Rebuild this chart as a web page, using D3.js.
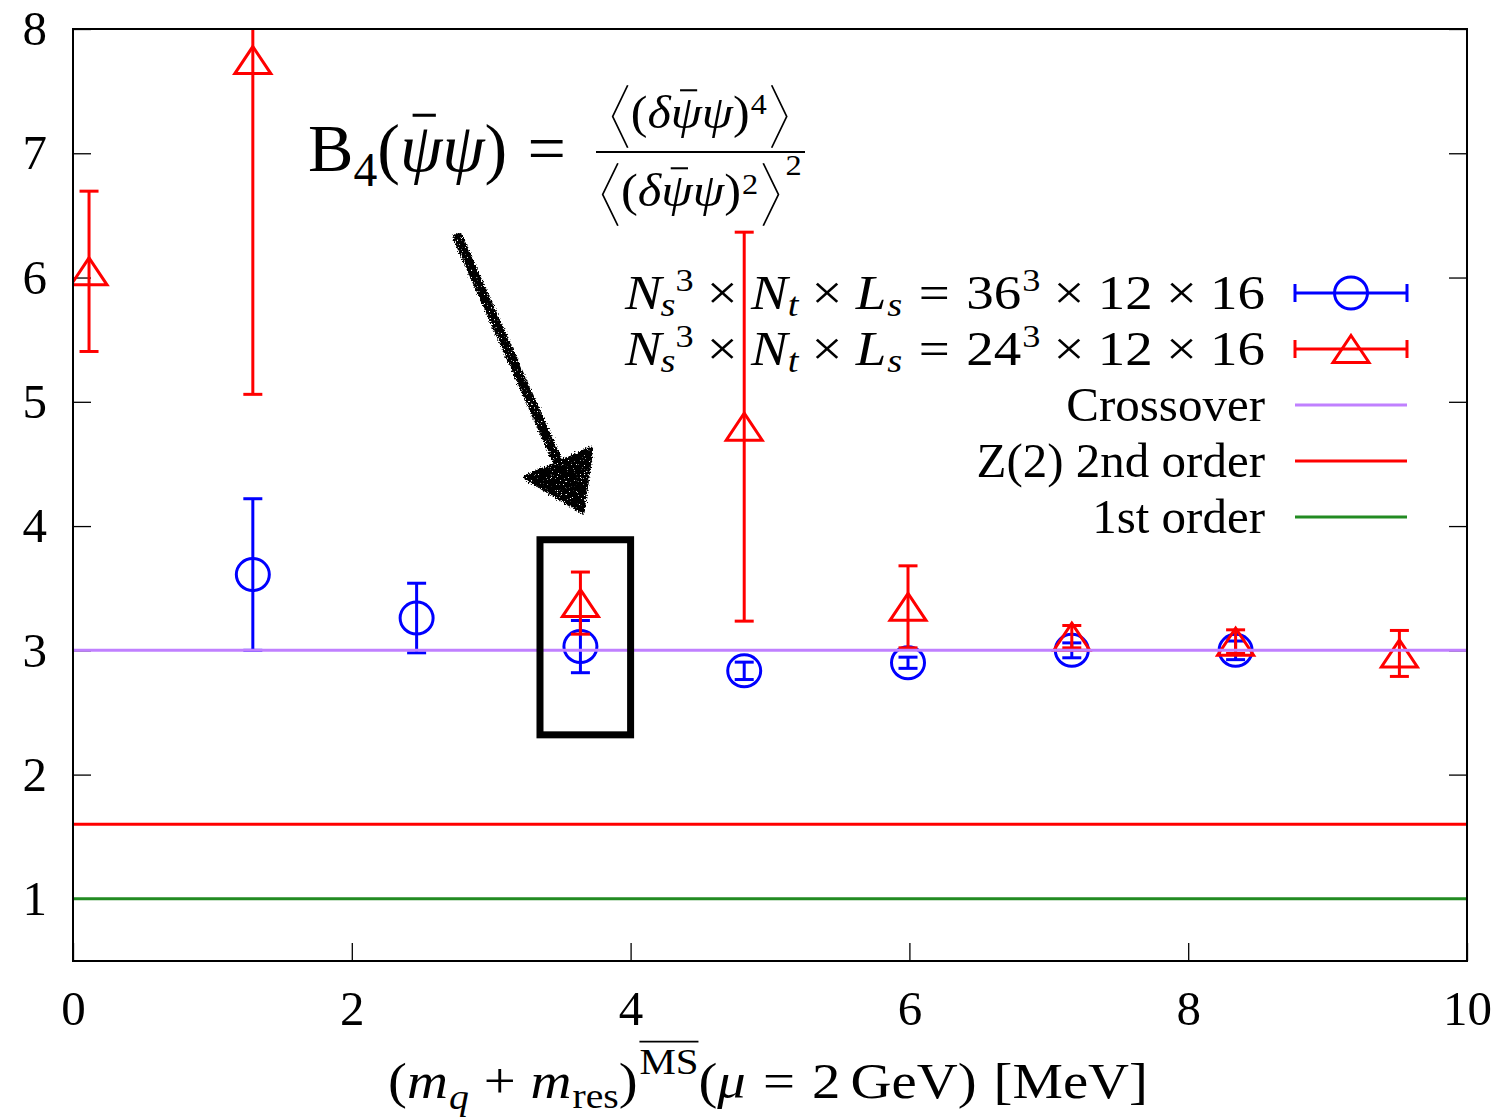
<!DOCTYPE html>
<html>
<head>
<meta charset="utf-8">
<script src="https://cdn.jsdelivr.net/npm/d3@7"></script>
<style>
  html, body { margin: 0; padding: 0; background: #fff; }
  svg { display: block; }
  text { font-family: "Liberation Serif", "DejaVu Serif", serif; fill: #000; }
</style>
</head>
<body>
<svg id="chart" width="1508" height="1117"></svg>
<script>
// ---- data ----
const massBlue   = [1.29, 2.465, 3.64, 4.815, 5.99, 7.165, 8.34];
const b4Blue     = [3.61, 3.26, 3.03, 2.835, 2.90, 3.00, 3.00];
const errBlue    = [0.61, 0.28, 0.21, 0.07, 0.045, 0.06, 0.075];

const massRed    = [0.115, 1.29, 3.64, 4.815, 5.99, 7.165, 8.34, 9.515];
const b4Red      = [6.05, 7.75, 3.38, 4.80, 3.35, 3.11, 3.07, 2.975];
const errRed     = [0.645, 2.69, 0.25, 1.565, 0.33, 0.09, 0.095, 0.185];

const refNames   = ["Crossover", "Z(2) 2nd order", "1st order"];
const refValues  = [3, 1.6, 1];
const refColors  = ["#c080ff", "#ff0000", "#228b22"];

const xTickValues = [0, 2, 4, 6, 8, 10];
const yTickValues = [1, 2, 3, 4, 5, 6, 7, 8];

// highlighted region and arrow pointing at it (data units)
const boxX = [3.35, 4.0];
const boxY = [2.32, 3.89];
const arrowTail = [2.762, 6.319];
const arrowHead = [[3.25, 4.39], [3.715, 4.62], [3.652, 4.12]];

// ---- layout ----
const svg = d3.select("#chart");
const L = 73, R = 1467, T = 29, B = 961;
const x = d3.scaleLinear().domain([0, 10]).range([L, R]);
const y = d3.scaleLinear().domain([0.5, 8]).range([B, T]);

const defs = svg.append("defs");
defs.append("clipPath").attr("id", "plotClip")
  .append("rect").attr("x", L).attr("y", T).attr("width", R - L).attr("height", B - T);

// grainy marker-pen texture for the arrow
const rough = defs.append("filter").attr("id", "rough")
  .attr("x", "-20%").attr("y", "-20%").attr("width", "140%").attr("height", "140%");
rough.append("feTurbulence").attr("type", "fractalNoise").attr("baseFrequency", 0.7)
  .attr("numOctaves", 2).attr("seed", 2).attr("result", "n");
rough.append("feDisplacementMap").attr("in", "SourceGraphic").attr("in2", "n")
  .attr("scale", 6).attr("xChannelSelector", "R").attr("yChannelSelector", "G").attr("result", "d");
rough.append("feTurbulence").attr("type", "fractalNoise").attr("baseFrequency", 1.3)
  .attr("numOctaves", 1).attr("seed", 5).attr("result", "n2");
rough.append("feColorMatrix").attr("in", "n2").attr("type", "matrix")
  .attr("values", "0 0 0 0 0  0 0 0 0 0  0 0 0 0 0  0 0 0 -16 11.6").attr("result", "holes");
rough.append("feComposite").attr("in", "d").attr("in2", "holes").attr("operator", "in");

// ---- rich (math-like) text helper: one <text> with positioned tspans ----
// pieces: {t, it, s (scale), b (baseline raise, em), back (stack on previous), l, r (padding em), bar}
function rich(parent, x0, y0, size, pieces, anchor, targetW) {
  const outer = parent.append("g");
  const g = outer.append("g");
  const text = g.append("text").attr("font-size", size);
  let cursor = 0, lastStart = 0;
  pieces.forEach(p => {
    const fs = size * (p.s || 1);
    if (p.delim) {
      // tall angle delimiter drawn as strokes
      const w = p.w * size, top = p.top * size, bot = p.bot * size;
      const xs = cursor + (p.l || 0) * size;
      const mid = y0 - (top - bot) / 2;
      const path = p.delim === "<"
        ? `M${xs + w},${y0 - top} L${xs},${mid} L${xs + w},${y0 + bot}`
        : `M${xs},${y0 - top} L${xs + w},${mid} L${xs},${y0 + bot}`;
      g.append("path").attr("d", path).attr("fill", "none").attr("stroke", "#000").attr("stroke-width", 1.6);
      lastStart = xs;
      cursor = xs + w + (p.r || 0) * size;
      return;
    }
    const t = text.append("tspan")
      .attr("font-size", fs)
      .attr("font-style", p.it ? "italic" : "normal")
      .attr("y", y0 - (p.b || 0) * size)
      .text(p.t);
    const w = t.node().getComputedTextLength();
    const xs = (p.back ? lastStart : cursor) + (p.l || 0) * size;
    t.attr("x", xs);
    if (!p.back) lastStart = xs;
    cursor = Math.max(cursor, xs + w + (p.r || 0) * size);
    if (p.bar) {
      const by = y0 - (p.b || 0) * size - (p.barY || 0.78) * fs;
      g.append("line")
        .attr("x1", xs + w * (p.barL == null ? 0 : p.barL)).attr("x2", xs + w * (p.barR == null ? 1 : p.barR))
        .attr("y1", by).attr("y2", by)
        .attr("stroke", "#000").attr("stroke-width", Math.max(1.4, fs * 0.045));
    }
  });
  const sx = targetW ? targetW / cursor : 1;
  const wTot = cursor * sx;
  const off = anchor === "end" ? x0 - wTot : anchor === "middle" ? x0 - wTot / 2 : x0;
  g.attr("transform", `translate(${off},${y0}) scale(${sx},1) translate(0,${-y0})`);
  return outer;
}

// ---- axes ----
const tickLen = 18;
const fontTick = 49;

const gy = svg.append("g").attr("transform", `translate(${L},0)`)
  .call(d3.axisLeft(y).tickValues(yTickValues).tickFormat(d3.format("d")).tickSize(-tickLen).tickPadding(26));
const gyr = svg.append("g").attr("transform", `translate(${R},0)`)
  .call(d3.axisRight(y).tickValues(yTickValues).tickFormat("").tickSize(-tickLen));
const gx = svg.append("g").attr("transform", `translate(0,${B})`)
  .call(d3.axisBottom(x).tickValues(xTickValues).tickFormat(d3.format("d")).tickSize(-tickLen).tickPadding(29));

[gy, gyr, gx].forEach(g => {
  g.select(".domain").remove();
  g.selectAll(".tick line").attr("stroke", "#000").attr("stroke-width", 1.3);
  g.selectAll(".tick text")
    .attr("font-family", "Liberation Serif, DejaVu Serif, serif")
    .attr("font-size", fontTick).attr("fill", "#000");
});

// ---- plot content ----
const plot = svg.append("g").attr("clip-path", "url(#plotClip)");

const capHalf = 9.5;
const markerStroke = 3;

function errorBars(g, xs, ys, es, color) {
  xs.forEach((xv, i) => {
    const y1 = y(ys[i] + es[i]), y0 = y(ys[i] - es[i]), px = x(xv);
    g.append("line").attr("x1", px).attr("x2", px).attr("y1", y1).attr("y2", y0)
      .attr("stroke", color).attr("stroke-width", markerStroke);
    [y1, y0].forEach(cy => g.append("line")
      .attr("x1", px - capHalf).attr("x2", px + capHalf).attr("y1", cy).attr("y2", cy)
      .attr("stroke", color).attr("stroke-width", markerStroke));
  });
}

function circleMarker(g, px, py, color) {
  g.append("ellipse").attr("cx", px).attr("cy", py).attr("rx", 16.5).attr("ry", 16)
    .attr("fill", "none").attr("stroke", color).attr("stroke-width", markerStroke);
}
function triMarker(g, px, py, color) {
  const w = 18, h = 13.5;
  g.append("path").attr("d", `M${px},${py - h} L${px + w},${py + h} L${px - w},${py + h} Z`)
    .attr("fill", "none").attr("stroke", color).attr("stroke-width", markerStroke)
    .attr("stroke-linejoin", "miter");
}

const blueG = plot.append("g");
errorBars(blueG, massBlue, b4Blue, errBlue, "#0000ff");
massBlue.forEach((m, i) => circleMarker(blueG, x(m), y(b4Blue[i]), "#0000ff"));

const redG = plot.append("g");
errorBars(redG, massRed, b4Red, errRed, "#ff0000");
massRed.forEach((m, i) => triMarker(redG, x(m), y(b4Red[i]), "#ff0000"));

refValues.forEach((v, i) => {
  plot.append("line").attr("x1", L).attr("x2", R).attr("y1", y(v)).attr("y2", y(v))
    .attr("stroke", refColors[i]).attr("stroke-width", 3);
});

// frame
svg.append("rect").attr("x", L).attr("y", T).attr("width", R - L).attr("height", B - T)
  .attr("fill", "none").attr("stroke", "#000").attr("stroke-width", 2);

// ---- legend ----
const legText = 1265, legX1 = 1295, legX2 = 1407, legMid = 1351;
const legRows = [293, 349, 405, 461, 517];
const fsLeg = 49;

function volumeLabel(ns) {
  return [
    { t: "N", it: true }, { t: "s", it: true, s: 0.7, b: -0.15, l: -0.02 }, { t: "3", s: 0.66, b: 0.36, l: 0.0 },
    { t: "×", l: 0.24, r: 0.24 },
    { t: "N", it: true }, { t: "t", it: true, s: 0.7, b: -0.15 },
    { t: "×", l: 0.24, r: 0.24 },
    { t: "L", it: true }, { t: "s", it: true, s: 0.7, b: -0.15, l: 0.02 },
    { t: "=", l: 0.3, r: 0.3 },
    { t: ns }, { t: "3", s: 0.66, b: 0.36, l: 0.02 },
    { t: "×", l: 0.24, r: 0.24 }, { t: "12" },
    { t: "×", l: 0.24, r: 0.24 }, { t: "16" }
  ];
}
const leg = svg.append("g");
[["36", "#0000ff", circleMarker], ["24", "#ff0000", triMarker]].forEach(([ns, col, mk], i) => {
  const yy = legRows[i];
  rich(leg, legText, yy + 16, fsLeg, volumeLabel(ns), "end", 640);
  leg.append("line").attr("x1", legX1).attr("x2", legX2).attr("y1", yy).attr("y2", yy)
    .attr("stroke", col).attr("stroke-width", markerStroke);
  [legX1, legX2].forEach(cx => leg.append("line").attr("x1", cx).attr("x2", cx)
    .attr("y1", yy - 9).attr("y2", yy + 9).attr("stroke", col).attr("stroke-width", markerStroke));
  mk(leg, legMid, yy, col);
});
refNames.forEach((name, i) => {
  const yy = legRows[i + 2];
  leg.append("text").attr("x", legText).attr("y", yy + 16).attr("text-anchor", "end")
    .attr("font-size", fsLeg).text(name);
  leg.append("line").attr("x1", legX1).attr("x2", legX2).attr("y1", yy).attr("y2", yy)
    .attr("stroke", refColors[i]).attr("stroke-width", 3);
});

// ---- axis title ----
rich(svg, 768, 1098, 50, [
  { t: "(" }, { t: "m", it: true }, { t: "q", it: true, s: 0.7, b: -0.22, l: 0.02 },
  { t: "+", l: 0.26, r: 0.26 },
  { t: "m", it: true }, { t: "res", s: 0.7, b: -0.2, l: 0.02 }, { t: ")" },
  { t: "MS", s: 0.72, b: 0.48, bar: true, barY: 0.9, l: 0.03 },
  { t: "(" }, { t: "μ", it: true }, { t: "=", l: 0.3, r: 0.3 }, { t: "2" }, { t: "GeV", l: 0.18 }, { t: ")" },
  { t: "[MeV]", l: 0.3 }
], "middle", 760);

// ---- Binder cumulant definition ----
const fsBig = 68;
rich(svg, 308, 171, fsBig, [
  { t: "B" }, { t: "4", s: 0.7, b: -0.22 }, { t: "(" },
  { t: "ψ", it: true, bar: true, barL: 0.3, barR: 0.85, barY: 0.82 }, { t: "ψ", it: true }, { t: ")" },
  { t: "=", l: 0.3 }
], "start", 258);

const fsFrac = 46;
const numPieces = [
  { delim: "<", w: 0.3, top: 0.93, bot: 0.43, r: 0.06 },
  { t: "(" }, { t: "δ", it: true },
  { t: "ψ", it: true, bar: true, barL: 0.3, barR: 0.85, barY: 0.82 }, { t: "ψ", it: true }, { t: ")" },
  { t: "4", s: 0.64, b: 0.3, l: 0.02 },
  { delim: ">", w: 0.3, top: 0.93, bot: 0.43, l: 0.1 }
];
const denPieces = [
  { delim: "<", w: 0.3, top: 0.93, bot: 0.43, r: 0.06 },
  { t: "(" }, { t: "δ", it: true },
  { t: "ψ", it: true, bar: true, barL: 0.3, barR: 0.85, barY: 0.82 }, { t: "ψ", it: true }, { t: ")" },
  { t: "2", s: 0.64, b: 0.25, l: 0.02 },
  { delim: ">", w: 0.3, top: 0.93, bot: 0.43, l: 0.1 },
  { t: "2", s: 0.64, b: 0.68, l: 0.14 }
];
rich(svg, 699.7, 128, fsFrac, numPieces, "middle", 174);
rich(svg, 702.2, 206, fsFrac, denPieces, "middle", 199);
svg.append("line").attr("x1", 596).attr("x2", 805).attr("y1", 152).attr("y2", 152)
  .attr("stroke", "#000").attr("stroke-width", 2);

// ---- highlight box and hand-drawn arrow ----
svg.append("rect")
  .attr("x", x(boxX[0])).attr("y", y(boxY[1]))
  .attr("width", x(boxX[1]) - x(boxX[0])).attr("height", y(boxY[0]) - y(boxY[1]))
  .attr("fill", "none").attr("stroke", "#000").attr("stroke-width", 7);

const hp = arrowHead.map(([a, b]) => [x(a), y(b)]);
const baseMid = [(hp[0][0] + hp[1][0]) / 2, (hp[0][1] + hp[1][1]) / 2];
const arrow = svg.append("g").attr("filter", "url(#rough)");
arrow.append("line")
  .attr("x1", x(arrowTail[0])).attr("y1", y(arrowTail[1]))
  .attr("x2", baseMid[0]).attr("y2", baseMid[1])
  .attr("stroke", "#000").attr("stroke-width", 10).attr("stroke-linecap", "round");
arrow.append("path").attr("d", d3.line()(hp) + "Z").attr("fill", "#000")
  .attr("stroke", "#000").attr("stroke-width", 5).attr("stroke-linejoin", "round");
</script>
</body>
</html>
